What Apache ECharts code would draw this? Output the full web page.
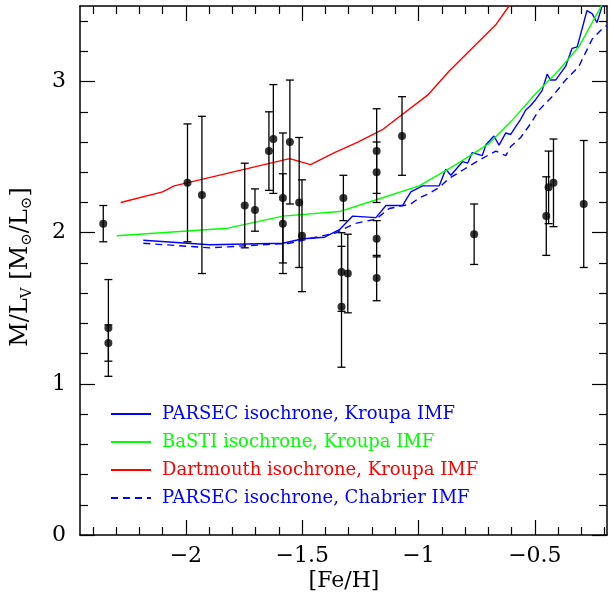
<!DOCTYPE html>
<html>
<head>
<meta charset="utf-8">
<script src="https://cdn.jsdelivr.net/npm/echarts@6/dist/echarts.min.js"></script>
<style>
html, body { margin: 0; padding: 0; background: #fff; }
#chart { width: 609px; height: 606px; }
</style>
</head>
<body>
<div id="chart"></div>
<script>
var chart = echarts.init(document.getElementById('chart'));
var FONT = 'DejaVu Serif';

// axis ticks
var xMajorTicks = [-2, -1.5, -1, -0.5];
var xMinorTicks = [-2.4, -2.3, -2.2, -2.1, -1.9, -1.8, -1.7, -1.6, -1.4, -1.3, -1.2, -1.1,
    -0.9, -0.8, -0.7, -0.6, -0.4, -0.3, -0.2];
var yMajorTicks = [0, 1, 2, 3];
var yMinorTicks = [0.2, 0.4, 0.6, 0.8, 1.2, 1.4, 1.6, 1.8, 2.2, 2.4, 2.6, 2.8, 3.2, 3.4];

// clusters: [Fe/H], M/L, error
var gcFeH = [-2.355, -2.333, -2.333, -1.993, -1.931, -1.747, -1.703, -1.643, -1.624, -1.583,
    -1.583, -1.553, -1.513, -1.501, -1.323, -1.331, -1.331, -1.304, -1.18, -1.18,
    -1.18, -1.18, -1.071, -0.761, -0.451, -0.441, -0.420, -0.290];
var gcML = [2.06, 1.37, 1.27, 2.33, 2.25, 2.18, 2.15, 2.54, 2.62, 2.23,
    2.06, 2.60, 2.20, 1.98, 2.23, 1.74, 1.51, 1.73, 2.54, 2.40,
    1.96, 1.70, 2.64, 1.99, 2.11, 2.30, 2.33, 2.19];
var gcErr = [0.12, 0.32, 0.12, 0.39, 0.52, 0.28, 0.14, 0.26, 0.36, 0.43,
    0.33, 0.41, 0.43, 0.37, 0.15, 0.26, 0.40, 0.26, 0.28, 0.20,
    0.12, 0.15, 0.26, 0.20, 0.26, 0.24, 0.29, 0.42];

// isochrone predictions [Fe/H, M/L]
var parsecKroupa = [[-2.183, 1.95], [-1.897, 1.92], [-1.583, 1.93], [-1.497, 1.96], [-1.404, 1.97],
    [-1.34, 2.02], [-1.283, 2.11], [-1.183, 2.10], [-1.14, 2.18], [-1.069, 2.18], [-1.033, 2.27],
    [-0.983, 2.31], [-0.911, 2.31], [-0.883, 2.42], [-0.861, 2.38], [-0.811, 2.47], [-0.789, 2.46],
    [-0.769, 2.53], [-0.726, 2.51], [-0.711, 2.58], [-0.676, 2.64], [-0.654, 2.58], [-0.625, 2.66],
    [-0.604, 2.65], [-0.583, 2.70], [-0.561, 2.75], [-0.540, 2.81], [-0.519, 2.84], [-0.497, 2.88],
    [-0.469, 2.94], [-0.447, 3.05], [-0.433, 3.01], [-0.411, 3.01], [-0.368, 3.10], [-0.340, 3.22],
    [-0.318, 3.23], [-0.276, 3.47], [-0.254, 3.45], [-0.233, 3.39], [-0.211, 3.50], [-0.19, 3.55]];
var bastiKroupa = [[-2.297, 1.98], [-1.819, 2.03], [-1.583, 2.11], [-1.34, 2.14], [-1.178, 2.22],
    [-0.997, 2.31], [-0.85, 2.44], [-0.697, 2.59], [-0.6, 2.74], [-0.497, 2.92], [-0.4, 3.07],
    [-0.311, 3.23], [-0.211, 3.51]];
var dartmouthKroupa = [[-2.28, 2.20], [-2.10, 2.27], [-2.05, 2.31], [-1.554, 2.49], [-1.464, 2.45],
    [-1.361, 2.53], [-1.261, 2.60], [-1.157, 2.68], [-0.961, 2.91], [-0.868, 3.07], [-0.666, 3.38],
    [-0.611, 3.50], [-0.58, 3.56]];
var parsecChabrier = [[-2.183, 1.93], [-1.897, 1.90], [-1.554, 1.93], [-1.497, 1.95], [-1.354, 2.00],
    [-1.276, 2.06], [-1.183, 2.09], [-1.126, 2.16], [-1.033, 2.19], [-0.997, 2.23], [-0.954, 2.26],
    [-0.911, 2.30], [-0.868, 2.36], [-0.804, 2.42], [-0.740, 2.48], [-0.668, 2.54], [-0.625, 2.51],
    [-0.604, 2.57], [-0.561, 2.63], [-0.519, 2.72], [-0.483, 2.81], [-0.426, 2.90], [-0.368, 3.01],
    [-0.311, 3.10], [-0.254, 3.28], [-0.204, 3.36], [-0.19, 3.37]];

var names = ['PARSEC isochrone, Kroupa IMF', 'BaSTI isochrone, Kroupa IMF',
    'Dartmouth isochrone, Kroupa IMF', 'PARSEC isochrone, Chabrier IMF'];
var colors = ['#0000ff', '#00ff00', '#ff0000', '#0000ff'];

var gcData = [];
for (var i = 0; i < gcFeH.length; i++) {
    gcData.push([gcFeH[i], gcML[i], gcErr[i]]);
}

function fmt(v) {
    return v < 0 ? '\u2212' + Math.abs(v) : String(v);
}

var XMIN = -2.455, XMAX = -0.19;
var gridBox = { left: 80, right: 2, top: 6, bottom: 71, containLabel: false, outerBoundsMode: 'none' };

function xAx(grid, pos, major) {
    return {
        type: 'value', gridIndex: grid, position: pos, min: XMIN, max: XMAX,
        axisLine: { show: major, onZero: false, lineStyle: { color: '#000', width: 1.5 } },
        axisTick: { show: true, inside: true, length: major ? 15 : 8,
            customValues: major ? xMajorTicks : xMinorTicks,
            lineStyle: { color: '#000', width: 1.2 } },
        axisLabel: { show: major && pos === 'bottom', customValues: xMajorTicks, formatter: fmt,
            margin: 10, color: '#000', fontFamily: FONT, fontSize: 22 },
        splitLine: { show: false }
    };
}
function yAx(grid, pos, major) {
    return {
        type: 'value', gridIndex: grid, position: pos, min: 0, max: 3.5,
        axisLine: { show: major, onZero: false, lineStyle: { color: '#000', width: 1.5 } },
        axisTick: { show: true, inside: true, length: major ? 15 : 8,
            customValues: major ? yMajorTicks : yMinorTicks,
            lineStyle: { color: '#000', width: 1.2 } },
        axisLabel: { show: major && pos === 'left', customValues: yMajorTicks, formatter: fmt,
            margin: 14, color: '#000', fontFamily: FONT, fontSize: 22 },
        splitLine: { show: false }
    };
}

function isoLine(k, data, dashed) {
    return {
        name: names[k], type: 'line', xAxisIndex: 0, yAxisIndex: 0, data: data,
        symbol: 'none', showSymbol: false, clip: true, z: 2,
        lineStyle: { color: colors[k], width: 1.4, type: dashed ? [7, 5] : 'solid' },
        itemStyle: { color: colors[k] }
    };
}

var option = {
    animation: false,
    backgroundColor: '#fff',
    grid: [gridBox, gridBox],
    xAxis: [xAx(0, 'bottom', true), xAx(0, 'top', true), xAx(1, 'bottom', false), xAx(1, 'top', false)],
    yAxis: [yAx(0, 'left', true), yAx(0, 'right', true), yAx(1, 'left', false), yAx(1, 'right', false)],
    legend: {
        orient: 'vertical', left: 110, top: 404, padding: 0,
        itemWidth: 40, itemHeight: 14, itemGap: 8,
        itemStyle: { color: 'rgba(0,0,0,0)', borderColor: 'rgba(0,0,0,0)', borderWidth: 0 },
        textStyle: { fontFamily: FONT, fontSize: 18, lineHeight: 20, padding: [0, 0, 0, 6] },
        data: names.map(function (n, k) {
            return { name: n, textStyle: { color: colors[k] } };
        })
    },
    graphic: [{
        type: 'text', x: 21, y: 267, rotation: Math.PI / 2,
        style: {
            text: '{b|M/L}{s|V}{b| [M}{s|\u2299}{b|/L}{s|\u2299}{b|]}',
            align: 'center', verticalAlign: 'middle', fill: '#000',
            rich: {
                b: { fontFamily: FONT, fontSize: 24, lineHeight: 28, fill: '#000' },
                s: { fontFamily: FONT, fontSize: 15, lineHeight: 15, verticalAlign: 'bottom', fill: '#000' }
            }
        }
    }, {
        type: 'text', x: 344, y: 581,
        style: { text: '[Fe/H]', font: '22px "DejaVu Serif"', align: 'center', verticalAlign: 'middle', fill: '#000' }
    }],
    series: [
        isoLine(0, parsecKroupa, false),
        isoLine(1, bastiKroupa, false),
        isoLine(2, dartmouthKroupa, false),
        isoLine(3, parsecChabrier, true),
        {
            name: 'errors', type: 'custom', xAxisIndex: 0, yAxisIndex: 0, data: gcData, z: 3,
            renderItem: function (params, api) {
                var x = api.value(0), y = api.value(1), e = api.value(2);
                var top = api.coord([x, y + e]);
                var bot = api.coord([x, y - e]);
                var st = { stroke: '#000', lineWidth: 1.3 };
                return {
                    type: 'group',
                    children: [
                        { type: 'line', shape: { x1: top[0], y1: top[1], x2: bot[0], y2: bot[1] }, style: st },
                        { type: 'line', shape: { x1: top[0] - 4, y1: top[1], x2: top[0] + 4, y2: top[1] }, style: st },
                        { type: 'line', shape: { x1: bot[0] - 4, y1: bot[1], x2: bot[0] + 4, y2: bot[1] }, style: st }
                    ]
                };
            }
        },
        {
            name: 'clusters', type: 'scatter', xAxisIndex: 0, yAxisIndex: 0, z: 4,
            data: gcData.map(function (d) { return [d[0], d[1]]; }),
            symbol: 'circle', symbolSize: 8, itemStyle: { color: '#000' }
        }
    ]
};
chart.setOption(option);
window.onresize = chart.resize;
</script>
</body>
</html>
